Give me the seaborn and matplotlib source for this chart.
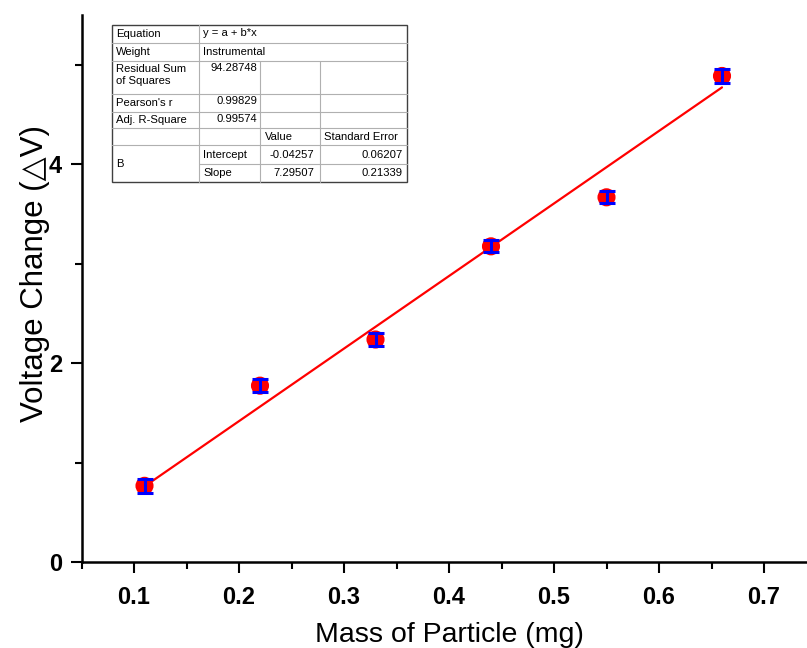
import numpy as np
import pandas as pd
import matplotlib
matplotlib.use('Agg')
import matplotlib.pyplot as plt
import seaborn as sns
from matplotlib.lines import Line2D
from matplotlib.ticker import MultipleLocator

# measured data
mass = [0.11, 0.22, 0.33, 0.44, 0.55, 0.66]
voltage = [0.766, 1.773, 2.237, 3.174, 3.667, 4.887]
voltage_err = [0.07, 0.068, 0.068, 0.06, 0.062, 0.07]

# linear fit results (from the fit table)
intercept = -0.04257
slope = 7.29507

table_rows = [
    ['Equation', 'y = a + b*x'],
    ['Weight', 'Instrumental'],
    ['Residual Sum\nof Squares', '94.28748'],
    ["Pearson's r", '0.99829'],
    ['Adj. R-Square', '0.99574'],
]
param_rows = [['Intercept', '-0.04257', '0.06207'],
              ['Slope', '7.29507', '0.21339']]

df = pd.DataFrame({'mass': mass, 'voltage': voltage, 'err': voltage_err})
fit_df = pd.DataFrame({'mass': mass, 'fit': [intercept + slope * m for m in mass]})

sns.set_style('ticks')
plt.rcParams['font.family'] = ['Liberation Sans', 'DejaVu Sans']
plt.rcParams['text.color'] = 'black'
plt.rcParams['axes.labelcolor'] = 'black'
plt.rcParams['xtick.color'] = 'black'
plt.rcParams['ytick.color'] = 'black'

W, H = 807, 648
fig = plt.figure(figsize=(W / 100, H / 100), dpi=100)
ax = fig.add_axes([81.5 / W, 86 / H, 735 / W, 547 / H])

sns.lineplot(data=fit_df, x='mass', y='fit', color='red', linewidth=1.6, ax=ax, zorder=2)
sns.scatterplot(data=df, x='mass', y='voltage', color='red', s=170, edgecolor='none',
                ax=ax, zorder=3)
ax.errorbar(df['mass'], df['voltage'], yerr=df['err'], fmt='none', ecolor='blue',
            elinewidth=2.2, capsize=5.5, capthick=2.2, zorder=4)

ax.set_xlim(0.05, 0.75)
ax.set_ylim(0, 5.5)
ax.xaxis.set_major_locator(MultipleLocator(0.1))
ax.xaxis.set_minor_locator(MultipleLocator(0.05))
ax.yaxis.set_major_locator(MultipleLocator(2))
ax.yaxis.set_minor_locator(MultipleLocator(1))
ax.set_xticks([0.1, 0.2, 0.3, 0.4, 0.5, 0.6, 0.7])
ax.set_xticklabels(['0.1', '0.2', '0.3', '0.4', '0.5', '0.6', '0.7'])
ax.tick_params(which='major', direction='out', length=8, width=1.5, labelsize=17)
ax.tick_params(axis='x', which='major', pad=9)
ax.tick_params(axis='y', which='major', pad=6)
ax.tick_params(which='minor', direction='out', length=5, width=1.5)
for lab in ax.get_xticklabels() + ax.get_yticklabels():
    lab.set_fontweight('bold')
for s in ['top', 'right']:
    ax.spines[s].set_visible(False)
for s in ['left', 'bottom']:
    ax.spines[s].set_linewidth(1.8)
    ax.spines[s].set_color('black')

ax.set_xlabel('Mass of Particle (mg)', fontsize=20.5, labelpad=10)
ax.set_ylabel('Voltage Change (△V)', fontsize=22.5)
ax.yaxis.set_label_coords(-0.043, 0.528)


# fit results table, drawn in figure pixel coordinates (origin top-left)
def fx(px):
    return px / W


def fy(py):
    return 1 - py / H


def hline(x0, x1, y, c='#b0b0b0'):
    fig.add_artist(Line2D([fx(x0), fx(x1)], [fy(y), fy(y)], color=c, lw=0.8, zorder=6))


def vline(x, y0, y1, c='#b0b0b0'):
    fig.add_artist(Line2D([fx(x), fx(x)], [fy(y0), fy(y1)], color=c, lw=0.8, zorder=6))


tl, tr, tt, tb = 111.5, 406.5, 24.5, 181.5
c1, c2, c3 = 199, 260, 320
rows_y = [24.5, 43.3, 61, 94.3, 111.7, 128.3, 145.5, 163.5, 181.5]

fig.add_artist(plt.Rectangle((fx(tl), fy(tb)), fx(tr) - fx(tl), fy(tt) - fy(tb),
                             transform=fig.transFigure, facecolor='white',
                             edgecolor='#404040', lw=1, zorder=5))
for y in rows_y[1:7]:
    hline(tl, tr, y)
hline(c1, tr, rows_y[7])
vline(c1, tt, tb)
vline(c2, rows_y[2], tb)
vline(c3, rows_y[2], tb)

fs = 8.1
kw = dict(fontsize=fs, zorder=7)
for i, (name, val) in enumerate(table_rows):
    top, bot = rows_y[i], rows_y[i + 1]
    if i == 2:
        fig.text(fx(116), fy(top + 3), name, va='top', ha='left', linespacing=1.3, **kw)
    else:
        fig.text(fx(116), fy((top + bot) / 2), name, va='center', ha='left', **kw)
    if i < 2:
        fig.text(fx(203), fy((top + bot) / 2 - 0.5), val, va='center', ha='left', **kw)
    else:
        fig.text(fx(257), fy(top + 2), val, va='top', ha='right', **kw)

fig.text(fx(265), fy((rows_y[5] + rows_y[6]) / 2), 'Value', va='center', ha='left', **kw)
fig.text(fx(324), fy((rows_y[5] + rows_y[6]) / 2), 'Standard Error', va='center',
         ha='left', **kw)
fig.text(fx(116), fy((rows_y[6] + rows_y[8]) / 2), 'B', va='center', ha='left', **kw)
for j, (pname, v, e) in enumerate(param_rows):
    yc = (rows_y[6 + j] + rows_y[7 + j]) / 2
    fig.text(fx(203), fy(yc), pname, va='center', ha='left', **kw)
    fig.text(fx(314), fy(yc), v, va='center', ha='right', **kw)
    fig.text(fx(403), fy(yc), e, va='center', ha='right', **kw)

fig.savefig('out.png', dpi=100)
